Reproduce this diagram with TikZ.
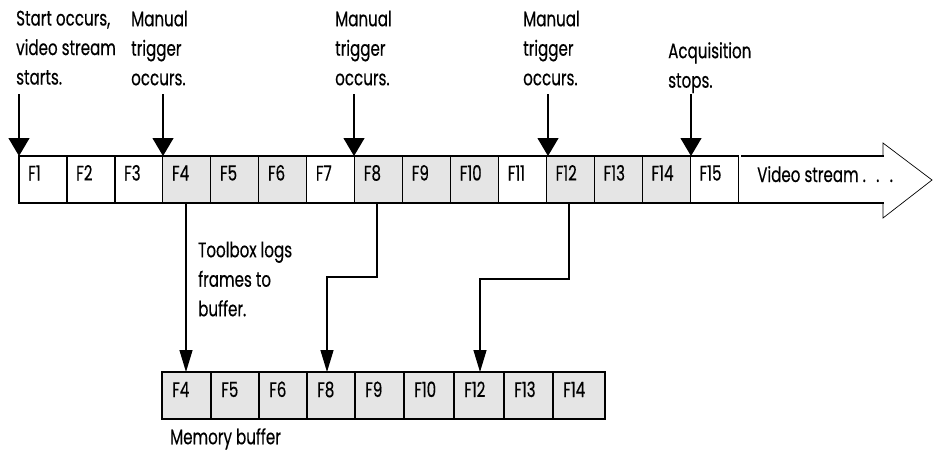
\documentclass[tikz,border=0pt]{standalone}
\usepackage{fontspec}
\setmainfont[FakeStretch=0.72,FakeBold=0.4]{Poppins}
\usetikzlibrary{arrows.meta}
\tikzset{
  x=1pt,y=-1pt,
  cell/.style={draw=black,line width=1.2pt,minimum height=47pt,inner sep=0pt,anchor=north west,outer sep=0pt},
  lab/.style={font=\fontsize{21}{29.5}\selectfont,inner sep=0pt,anchor=north west,align=left},
  celltxt/.style={font=\fontsize{21}{24}\selectfont,inner sep=0pt,anchor=base west},
  trig/.style={line width=1.2pt,-{Triangle[length=18pt,width=21pt]}},
  conn/.style={line width=1.2pt,-{Triangle[length=22pt,width=13pt]}},
}
\definecolor{fillg}{RGB}{229,229,229}
\begin{document}
\begin{tikzpicture}
\useasboundingbox (0,0) rectangle (933,456);
% video stream arrow
\draw[line width=0.7pt,fill=white] (883,156) -- (883,143) -- (932,180) -- (883,218) -- (883,203);
\draw[line width=1.2pt] (741,156) -- (884,156);
\draw[line width=1.2pt] (739,203) -- (884,203);
\foreach \i/\f in {1/white,2/white,3/white,4/fillg,5/fillg,6/fillg,7/white,8/fillg,9/fillg,10/fillg,11/white,12/fillg,13/fillg,14/fillg,15/white}{
  \node[cell,fill=\f,minimum width=48pt] (t\i) at ({19+47.95*(\i-1)},156) {};
  \node[celltxt] at ({28+47.95*(\i-1)},180.5) {F\i};
}
\node[celltxt] (vs) at (757,182) {Video stream {\spaceskip=9pt . . .}};
% memory buffer
\foreach \n/\lbl/\a/\w in {m1/F4/162/49,m2/F5/211/48,m3/F6/259/48,m4/F8/307/48,m5/F9/355/49,m6/F10/404/50,m7/F12/454/50,m8/F13/504/49,m9/F14/553/52}{
  \node[cell,fill=fillg,minimum width=\w pt,minimum height=47pt] (\n) at (\a,372) {};
  \node[celltxt] at ({\a+10},397) {\lbl};
}
\node[lab] (mb) at (170,428) {Memory buffer};
\node[lab] (s1) at (16,10.5) {Start occurs,\\video stream\\starts.};
\node[lab] (s2) at (131,10.5) {Manual\\trigger\\occurs.};
\node[lab] (s3) at (335,10.5) {Manual\\trigger\\occurs.};
\node[lab] (s4) at (523,10.5) {Manual\\trigger\\occurs.};
\node[lab] (s5) at (668,42) {Acquisition\\stops.};
\node[lab] (tb) at (198,241.5) {Toolbox logs\\frames to\\buffer.};
\coordinate (a1) at (19,94); \coordinate (a2) at (163,94); \coordinate (a3) at (354,94); \coordinate (a4) at (548,94); \coordinate (a5) at (691,94);
\draw[trig] (a1) -- (a1 |- t1.north);
\draw[trig] (a2) -- (a2 |- t4.north);
\draw[trig] (a3) -- (a3 |- t8.north);
\draw[trig] (a4) -- (a4 |- t12.north);
\draw[trig] (a5) -- (a5 |- t15.north);
\coordinate (b4) at (186,277); \coordinate (b8) at (377,277); \coordinate (c8) at (327,277);
\coordinate (b12) at (569,279); \coordinate (c12) at (480,279);
\draw[conn] (b4 |- t4.south) -- (b4 |- m1.north);
\draw[conn] (b8 |- t8.south) -- (b8) -- (c8) -- (c8 |- m4.north);
\draw[conn] (b12 |- t12.south) -- (b12) -- (c12) -- (c12 |- m7.north);
\end{tikzpicture}
\end{document}
